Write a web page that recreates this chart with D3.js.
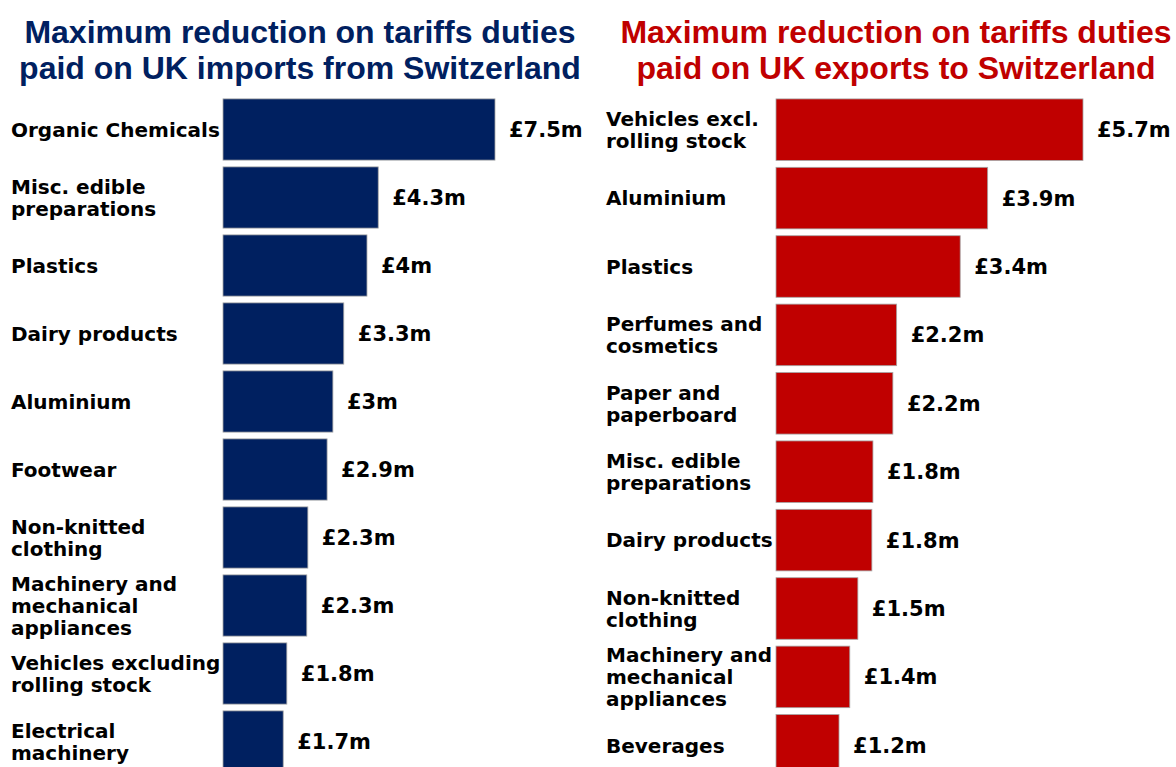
<!DOCTYPE html>
<html>
<head>
<meta charset="utf-8">
<script src="https://cdn.jsdelivr.net/npm/d3@7"></script>
<style>
  body { margin: 0; background: #fff; }
  svg { display: block; }
</style>
</head>
<body>
<script>
// import side (left panel)
const importCategories = [
  "Organic Chemicals",
  "Misc. edible\npreparations",
  "Plastics",
  "Dairy products",
  "Aluminium",
  "Footwear",
  "Non-knitted\nclothing",
  "Machinery and\nmechanical\nappliances",
  "Vehicles excluding\nrolling stock",
  "Electrical\nmachinery",
];
const importValues = [7.5, 4.28, 3.97, 3.33, 3.03, 2.87, 2.34, 2.31, 1.76, 1.66];

// export side (right panel)
const exportCategories = [
  "Vehicles excl.\nrolling stock",
  "Aluminium",
  "Plastics",
  "Perfumes and\ncosmetics",
  "Paper and\npaperboard",
  "Misc. edible\npreparations",
  "Dairy products",
  "Non-knitted\nclothing",
  "Machinery and\nmechanical\nappliances",
  "Beverages",
];
const exportValues = [5.7, 3.93, 3.42, 2.24, 2.17, 1.8, 1.78, 1.52, 1.37, 1.17];

const importTitle = ["Maximum reduction on tariffs duties", "paid on UK imports from Switzerland"];
const exportTitle = ["Maximum reduction on tariffs duties", "paid on UK exports to Switzerland"];

const WIDTH = 1176;
const HEIGHT = 767;
const LINE_HEIGHT = 22;

const svg = d3.select("body")
  .append("svg")
  .attr("width", WIDTH)
  .attr("height", HEIGHT);

function fmt(v) {
  return "£" + (+v.toFixed(1)) + "m";
}

function drawPanel(opts) {
  const { categories, values, title, titleX, color, labelX, barX, barMaxX, yRange } = opts;

  const g = svg.append("g");

  g.append("text")
    .attr("x", titleX)
    .attr("y", 43)
    .attr("text-anchor", "middle")
    .attr("font-family", "Liberation Sans, Arial, sans-serif")
    .attr("font-weight", "bold")
    .attr("font-size", 32)
    .attr("fill", color)
    .selectAll("tspan")
    .data(title)
    .join("tspan")
    .attr("x", titleX)
    .attr("dy", (d, i) => (i === 0 ? 0 : 36))
    .text(d => d);

  const xScale = d3.scaleLinear()
    .domain([0, d3.max(values)])
    .range([barX, barMaxX]);

  const yScale = d3.scaleBand()
    .domain(categories)
    .range(yRange)
    .paddingInner(0.1)
    .paddingOuter(0.05);

  const rows = g.selectAll(".row")
    .data(categories.map((c, i) => ({ cat: c, value: values[i] })))
    .join("g")
    .attr("class", "row");

  rows.append("rect")
    .attr("x", xScale(0))
    .attr("y", d => yScale(d.cat))
    .attr("width", d => xScale(d.value) - xScale(0))
    .attr("height", yScale.bandwidth())
    .attr("fill", color)
    .attr("stroke", "#a6a6a6")
    .attr("stroke-width", 0.8);

  // category labels, multi-line centred on the bar
  rows.append("text")
    .attr("font-family", "DejaVu Sans, sans-serif")
    .attr("font-weight", "bold")
    .attr("font-size", 20)
    .attr("fill", "#000")
    .each(function (d) {
      const lines = d.cat.split("\n");
      const mid = yScale(d.cat) + yScale.bandwidth() / 2;
      d3.select(this)
        .selectAll("tspan")
        .data(lines)
        .join("tspan")
        .attr("x", labelX)
        .attr("y", (l, i) => mid + (i - (lines.length - 1) / 2) * LINE_HEIGHT)
        .attr("dy", "0.36em")
        .text(l => l);
    });

  // value labels
  rows.append("text")
    .attr("x", d => xScale(d.value) + 14)
    .attr("y", d => yScale(d.cat) + yScale.bandwidth() / 2)
    .attr("dy", "0.36em")
    .attr("font-family", "DejaVu Sans, sans-serif")
    .attr("font-weight", "bold")
    .attr("font-size", 21)
    .attr("fill", "#000")
    .text(d => fmt(d.value));
}

drawPanel({
  categories: importCategories,
  values: importValues,
  title: importTitle,
  titleX: 300,
  color: "#002060",
  labelX: 11,
  barX: 223,
  barMaxX: 495,
  yRange: [95.5, 775.5],
});

drawPanel({
  categories: exportCategories,
  values: exportValues,
  title: exportTitle,
  titleX: 896,
  color: "#c00000",
  labelX: 606,
  barX: 776,
  barMaxX: 1083,
  yRange: [95.5, 779.5],
});
</script>
</body>
</html>
